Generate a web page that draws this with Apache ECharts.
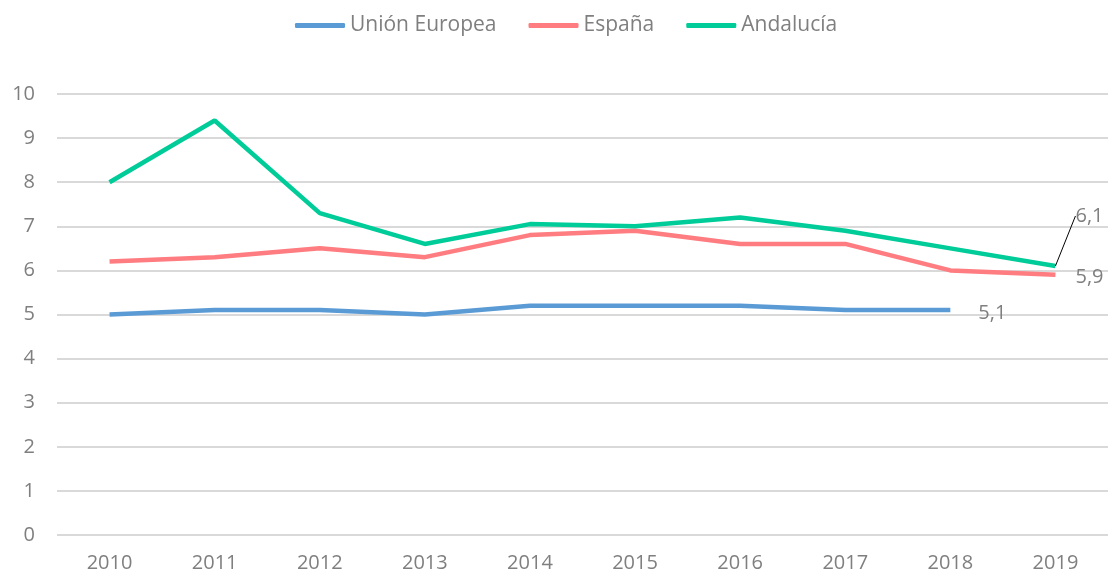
<!DOCTYPE html>
<html>
<head>
<meta charset="utf-8">
<script src="https://cdn.jsdelivr.net/npm/echarts@6/dist/echarts.min.js"></script>
<style>
  html, body { margin: 0; padding: 0; background: #fff; }
  #chart { width: 1108px; height: 573px; }
</style>
</head>
<body>
<div id="chart"></div>
<script>
const years = ['2010', '2011', '2012', '2013', '2014', '2015', '2016', '2017', '2018', '2019']
const unionEuropea = [5.0, 5.1, 5.1, 5.0, 5.2, 5.2, 5.2, 5.1, 5.1, null]
const espana = [6.2, 6.3, 6.5, 6.3, 6.8, 6.9, 6.6, 6.6, 6.0, 5.9]
const andalucia = [8.0, 9.4, 7.3, 6.6, 7.05, 7.0, 7.2, 6.9, 6.5, 6.1]

const textColor = '#7f7f7f'
const fontFamily = '"Open Sans", "Noto Sans", sans-serif'

// only the last point of each series carries a label
function lastLabel(data, idx, labelOpts) {
  return data.map((v, i) => {
    if (i !== idx) return v
    return { value: v, label: Object.assign({ show: true }, labelOpts) }
  })
}
const fmt = (p) => String(p.value).replace('.', ',')

const lineBase = { type: 'line', symbol: 'circle', symbolSize: 0, lineStyle: { width: 4.5 } }

const chart = echarts.init(document.getElementById('chart'))
chart.setOption({
  color: ['#5b9bd5', '#ff7c80', '#00cc99'],
  textStyle: { fontFamily },
  legend: {
    top: 10,
    left: 290,
    itemWidth: 50,
    itemHeight: 5,
    itemGap: 32,
    icon: 'roundRect',
    textStyle: { color: textColor, fontSize: 21, fontFamily }
  },
  grid: { left: 57, right: 0, top: 94, bottom: 38 },
  xAxis: {
    type: 'category',
    data: years,
    axisLine: { show: false },
    axisTick: { show: false },
    axisLabel: { color: textColor, fontSize: 20, margin: 18 }
  },
  yAxis: {
    type: 'value',
    min: 0,
    max: 10,
    interval: 1,
    axisLabel: { color: textColor, fontSize: 20, margin: 22 },
    splitLine: { lineStyle: { color: '#d9d9d9', width: 2 } }
  },
  series: [
    Object.assign({}, lineBase, {
      name: 'Unión Europea',
      data: lastLabel(unionEuropea, 8, {
        position: 'right', distance: 28, offset: [0, 3], color: textColor, fontSize: 20, formatter: fmt
      })
    }),
    Object.assign({}, lineBase, {
      name: 'España',
      data: lastLabel(espana, 9, {
        position: 'right', distance: 20, offset: [0, 2], color: textColor, fontSize: 20, formatter: fmt
      })
    }),
    Object.assign({}, lineBase, {
      name: 'Andalucía',
      labelLine: { show: true, lineStyle: { color: '#000', width: 1 } },
      labelLayout: { dx: 16, dy: -50 },
      data: lastLabel(andalucia, 9, {
        position: 'right', distance: 4, color: textColor, fontSize: 20, formatter: fmt
      })
    })
  ]
})
</script>
</body>
</html>
